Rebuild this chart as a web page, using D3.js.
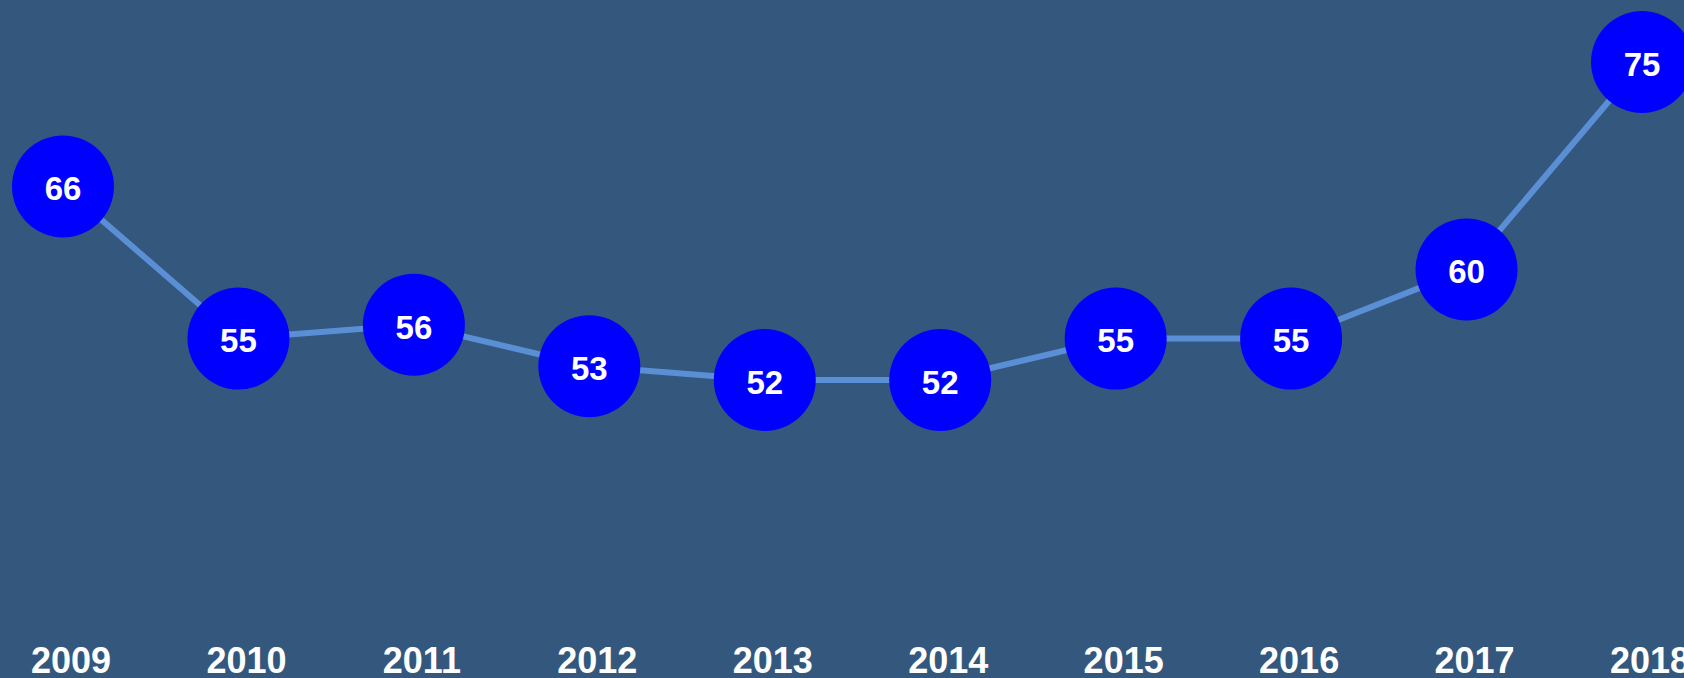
<!DOCTYPE html>
<html>
<head>
<meta charset="utf-8">
<script src="https://cdn.jsdelivr.net/npm/d3@7"></script>
<style>
  html, body { margin: 0; padding: 0; background: #34577e; overflow: hidden; }
  svg { display: block; }
</style>
</head>
<body>
<svg id="chart"></svg>
<script>
// Data
const years = ['2009', '2010', '2011', '2012', '2013', '2014', '2015', '2016', '2017', '2018'];
const values = [66, 55, 56, 53, 52, 52, 55, 55, 60, 75];

const width = 1684;
const height = 678;

const svg = d3.select('#chart')
  .attr('width', width)
  .attr('height', height);

svg.append('rect')
  .attr('width', width).attr('height', height)
  .attr('fill', '#34577e');

const data = years.map((y, i) => ({ year: y, value: values[i] }));

const x = d3.scalePoint().domain(years).range([63, 1642]);
const y = d3.scaleLinear().domain([d3.min(values), d3.max(values)]).range([380, 62]);

// Connecting line
const line = d3.line()
  .x(d => x(d.year))
  .y(d => y(d.value));

svg.append('path')
  .datum(data)
  .attr('d', line)
  .attr('fill', 'none')
  .attr('stroke', '#5a8fd6')
  .attr('stroke-width', 6);

// Bubbles with value labels
const dots = svg.append('g')
  .selectAll('g')
  .data(data)
  .join('g')
  .attr('transform', d => `translate(${x(d.year)},${y(d.value)})`);

dots.append('circle')
  .attr('r', 51)
  .attr('fill', '#0000ff');

dots.append('text')
  .text(d => d.value)
  .attr('text-anchor', 'middle')
  .attr('dy', '0.42em')
  .attr('fill', '#ffffff')
  .attr('font-family', 'Liberation Sans, Arial, sans-serif')
  .attr('font-weight', 'bold')
  .attr('font-size', '33px');

// Year labels along the bottom
svg.append('g')
  .selectAll('text')
  .data(years)
  .join('text')
  .text(d => d)
  .attr('x', d => x(d) + 8)
  .attr('y', 673)
  .attr('text-anchor', 'middle')
  .attr('fill', '#ffffff')
  .attr('font-family', 'Liberation Sans, Arial, sans-serif')
  .attr('font-weight', 'bold')
  .attr('font-size', '36px');
</script>
</body>
</html>
